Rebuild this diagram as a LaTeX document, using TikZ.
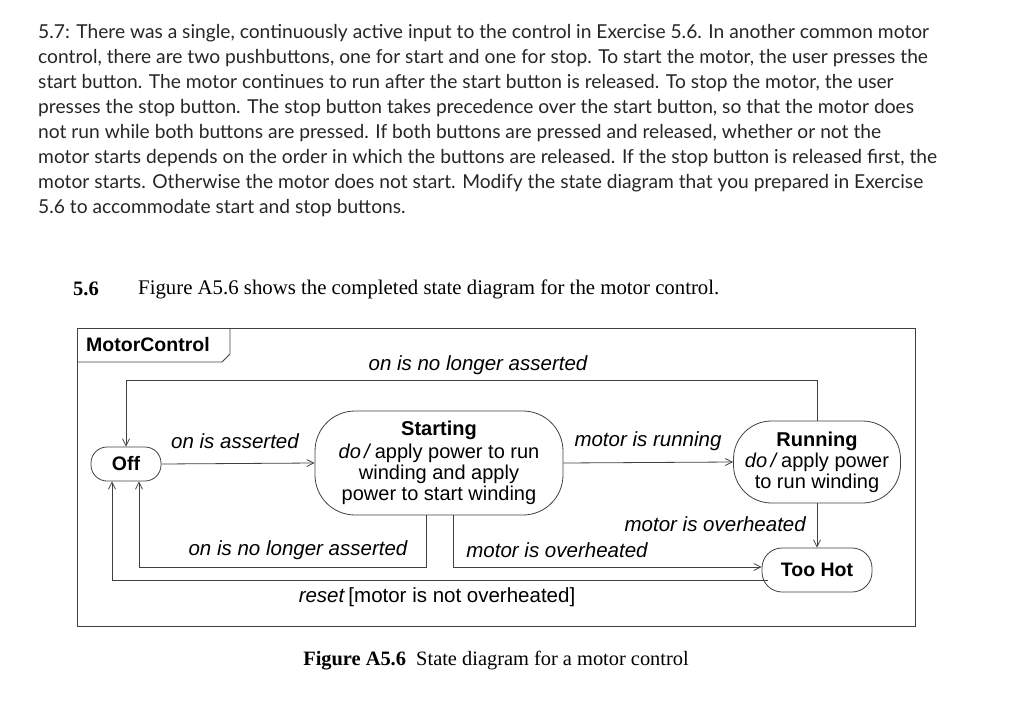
\documentclass[tikz,border=0pt]{standalone}
\usepackage{fontspec}
\setmainfont{Liberation Serif}
\newfontfamily\lato{Lato}
\newfontfamily\hel{Liberation Sans}
\usetikzlibrary{arrows.meta}
\begin{document}
\begin{tikzpicture}[x=1pt,y=-1pt,
  st/.style={draw=black!75,line width=0.8pt,rounded corners=#1,inner sep=0pt,align=center,font=\hel\fontsize{20}{21}\selectfont},
  lbl/.style={font=\hel\itshape\fontsize{20.5}{21}\selectfont,inner sep=0pt},
  tr/.style={draw=black!75,line width=0.8pt,-{Straight Barb[length=7pt,width=7pt]}},
  para/.style={anchor=west,inner sep=0pt,font=\lato\fontsize{19.2}{22}\selectfont,text=black!85}]
\useasboundingbox (0,0) rectangle (1024,711);
% paragraph
\node[para] (p1) at (38,33) {5.7: There was a single, continuously active input to the control in Exercise 5.6. In another common motor};
\node[para] (p2) at (38,58) {control, there are two pushbuttons, one for start and one for stop. To start the motor, the user presses the};
\node[para] (p3) at (38,83) {start button. The motor continues to run after the start button is released. To stop the motor, the user};
\node[para] (p4) at (38,108) {presses the stop button. The stop button takes precedence over the start button, so that the motor does};
\node[para] (p5) at (38,133) {not run while both buttons are pressed. If both buttons are pressed and released, whether or not the};
\node[para] (p6) at (38,158) {motor starts depends on the order in which the buttons are released. If the stop button is released first, the};
\node[para] (p7) at (38,183) {motor starts. Otherwise the motor does not start. Modify the state diagram that you prepared in Exercise};
\node[para] (p8) at (38,208) {5.6 to accommodate start and stop buttons.};
\node[anchor=west,inner sep=0pt,font=\bfseries\fontsize{20.5}{22}\selectfont] (n56) at (73,289) {5.6};
\node[anchor=west,inner sep=0pt,font=\fontsize{20.8}{22}\selectfont] (fa) at (138,289) {Figure A5.6 shows the completed state diagram for the motor control.};
% frame
\draw[black!75,line width=0.9pt] (77,328) rectangle (915,626);
\draw[black!75,line width=0.9pt] (77,362) -- (222,362) -- (230,354) -- (230,328);
\node[anchor=west,inner sep=0pt,font=\hel\bfseries\fontsize{19.5}{21}\selectfont] (mc) at (86,345) {MotorControl};
% states
\node[st=16pt,minimum width=70pt,minimum height=34pt,font=\hel\bfseries\fontsize{19.5}{21}\selectfont] (off) at (126,464) {Off};
\node[st=40pt,minimum width=248pt,minimum height=104pt] (start) at (439,463) {\textbf{Starting}\\[2pt]\textit{do\,/}\,apply power to run\\ winding and apply\\ power to start winding};
\node[st=38pt,minimum width=167pt,minimum height=82pt] (run) at (817,462) {\textbf{Running}\\\textit{do\,/}\,apply power\\ to run winding};
\node[st=20pt,minimum width=110pt,minimum height=44pt,font=\hel\bfseries\fontsize{19.5}{21}\selectfont] (hot) at (817,570) {Too Hot};
\coordinate (c1) at (426,515);
\coordinate (c2) at (453,515);
\coordinate (c3) at (139,567);
\coordinate (c4) at (112,580);
\coordinate (c5) at (768,580);
\coordinate (c6) at (453,567);
% transitions
\draw[tr] (run.north) -- (817,380) -- (126,380) -- (off.north);
\node[lbl] (l1) at (478,365) {on is no longer asserted};
\draw[tr] (off.east) -- (start.west);
\node[lbl] (l2) at (235,441) {on is asserted};
\draw[tr] (start.east) -- (run.west);
\node[lbl] (l3) at (648,441) {motor is running};
\draw[tr] (run.south) -- (hot.north);
\node[lbl,anchor=east] (l4) at (806,524) {motor is overheated};
\draw[tr] (c1) -- (426,567) -- (c3) -- (c3|-off.south);
\node[lbl] (l5) at (298,550) {on is no longer asserted};
\draw[tr] (c2) -- (c6) -- (hot.west|-c6);
\node[lbl] (l6) at (557,550) {motor is overheated};
\draw[tr] (c5) -- (c4) -- (c4|-off.south);
\node[font=\hel\fontsize{20.5}{21}\selectfont,inner sep=0pt] (l7) at (437,597) {\textit{reset}\,[motor is not overheated]};
% caption
\node[inner sep=0pt,font=\fontsize{20.4}{22}\selectfont] (cap) at (496,661) {\textbf{Figure A5.6}\ \ State diagram for a motor control};
\end{tikzpicture}
\end{document}
